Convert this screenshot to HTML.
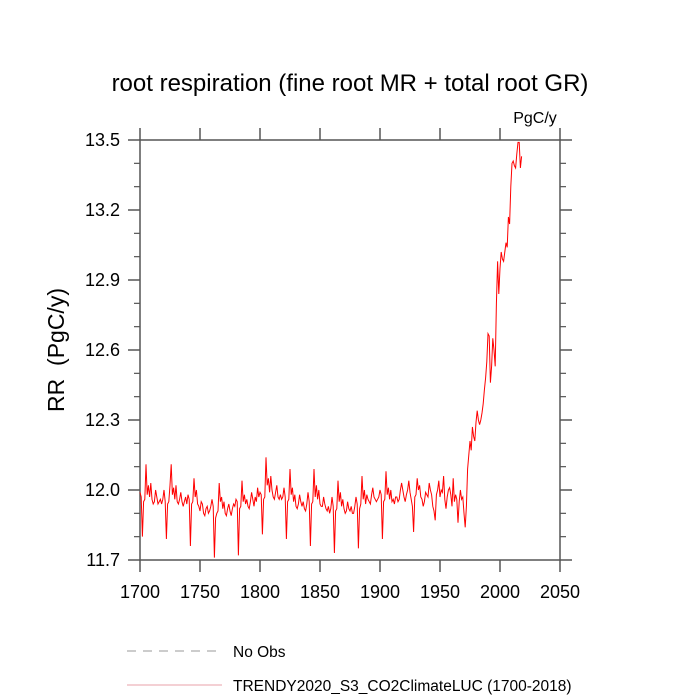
<!DOCTYPE html>
<html><head><meta charset="utf-8"><style>
body{margin:0;background:#fff;}
svg{display:block;font-family:"Liberation Sans",sans-serif;}
</style></head><body>
<svg id="chart" width="700" height="700">
<text x="350" y="91" text-anchor="middle" font-size="24">root respiration (fine root MR + total root GR)</text>
<text x="535" y="123" text-anchor="middle" font-size="16">PgC/y</text>
<text transform="translate(64,350) rotate(-90)" text-anchor="middle" font-size="23">RR&#160;&#160;(PgC/y)</text>
<g id="axes"></g>
<g id="series"></g>
<line x1="127" y1="651" x2="220" y2="651" stroke="#999" stroke-width="1" stroke-dasharray="9,7"/>
<text x="233" y="657" font-size="15.5">No Obs</text>
<line x1="127" y1="685" x2="222" y2="685" stroke="#e8a0a8" stroke-width="1"/>
<text x="233" y="691" font-size="15.5">TRENDY2020_S3_CO2ClimateLUC (1700-2018)</text>
</svg>
<script>
const startYear = 1700;
const xTicks = [1700,1750,1800,1850,1900,1950,2000,2050];
const yTicks = [11.7,12.0,12.3,12.6,12.9,13.2,13.5];
const yTickLabels = ["11.7","12.0","12.3","12.6","12.9","13.2","13.5"];
const rr = [11.99,11.97,
11.80,11.95,11.96,12.11,11.98,12.02,11.97,12.03,11.96,11.94,11.95,12.00,11.97,11.94,11.95,11.96,11.94,11.96,12.00,11.95,
11.79,11.94,11.95,12.02,12.11,11.98,12.01,11.96,12.02,11.95,11.94,11.96,11.99,11.95,11.93,11.95,11.97,11.94,11.98,11.96,
11.76,11.94,11.95,12.05,11.97,12.00,11.94,11.93,11.91,11.95,11.94,11.90,11.89,11.92,11.93,11.90,11.91,11.93,11.96,11.93,
11.71,11.88,11.90,11.91,12.03,11.95,11.97,11.92,11.95,11.90,11.89,11.92,11.94,11.91,11.89,11.92,11.94,11.93,11.96,11.95,
11.72,11.92,11.93,12.04,11.95,11.98,11.94,11.96,11.93,11.92,11.95,11.99,11.96,11.93,11.97,11.95,12.01,11.97,11.99,11.98,
11.81,11.96,11.97,12.14,12.02,12.05,11.99,12.06,12.00,11.97,11.96,11.99,12.02,11.97,11.96,11.98,11.96,11.97,12.01,11.97,
11.79,11.95,11.96,12.09,11.98,12.01,11.95,11.98,11.93,11.92,11.94,11.98,11.95,11.93,11.95,11.92,11.91,11.94,11.99,11.95,
11.76,11.94,11.95,12.09,11.97,12.02,11.96,12.00,11.94,11.93,11.93,11.97,11.94,11.92,11.91,11.93,11.90,11.92,11.97,11.93,
11.73,11.91,11.92,12.04,11.95,11.99,11.93,11.96,11.92,11.90,11.91,11.95,11.92,11.91,11.93,11.90,11.90,11.93,11.97,11.94,
11.75,11.92,11.94,12.06,11.96,12.00,11.94,11.98,11.96,11.95,11.94,11.98,12.01,11.97,11.96,11.95,11.96,11.97,12.00,11.98,
11.79,11.95,11.96,12.08,11.98,12.01,11.96,12.00,11.95,11.96,11.94,11.97,11.97,11.95,11.96,12.00,12.03,12.00,11.97,11.95,
11.98,12.00,12.04,11.99,11.96,11.93,11.82,11.97,11.98,12.05,12.00,12.02,11.97,11.96,11.93,11.95,11.99,11.98,11.97,12.03,
12.00,11.98,11.93,11.91,11.87,11.98,12.00,12.04,11.97,12.00,11.99,12.06,11.96,11.92,11.97,12.00,12.01,11.98,11.93,12.05,11.95,11.98,11.96,11.86,11.95,
12.00,11.96,11.97,11.90,11.84,11.93,12.09,12.15,12.21,12.17,12.27,12.23,12.21,12.29,12.34,12.30,12.28,12.30,12.33,12.37,
12.43,12.48,12.55,12.67,12.66,12.46,12.53,12.65,12.60,12.53,12.80,12.98,12.84,12.95,13.02,12.99,12.98,13.02,13.06,13.04,
13.17,13.14,13.30,13.40,13.41,13.39,13.38,13.44,13.49,13.49,13.38,13.43];

const L=140,R=560,T=140,B=560;
const xS = y => L + (y-1700)/(2050-1700)*(R-L);
const yS = v => B - (v-11.7)/(13.5-11.7)*(B-T);
const NS="http://www.w3.org/2000/svg";
const axes=document.getElementById('axes');
function mk(tag,attrs,parent){const e=document.createElementNS(NS,tag);for(const k in attrs)e.setAttribute(k,attrs[k]);parent.appendChild(e);return e;}
const frame=mk('rect',{x:L,y:T,width:R-L,height:B-T,fill:'none',stroke:'#555','stroke-width':1.5},axes);


xTicks.forEach(t=>{
  const x=xS(t);
  const tb=mk('line',{x1:x,y1:B,x2:x,y2:B+12,stroke:'#555','stroke-width':1.5},axes);
  
  
  const tt=mk('line',{x1:x,y1:T,x2:x,y2:T-12,stroke:'#555','stroke-width':1.5},axes);
  
  
  const lb=mk('text',{x:x,y:B+38,'text-anchor':'middle','font-size':18},axes);
  lb.textContent=t;
  
  
});
for(let i=0;i<yTicks.length;i++){
  const y=yS(yTicks[i]);
  const a=mk('line',{x1:L-12,y1:y,x2:L,y2:y,stroke:'#555','stroke-width':1.5},axes);
  
  
  const b=mk('line',{x1:R,y1:y,x2:R+12,y2:y,stroke:'#555','stroke-width':1.5},axes);
  
  
  const lb=mk('text',{x:L-20,y:y+6,'text-anchor':'end','font-size':18},axes);
  lb.textContent=yTickLabels[i];
  
  
  if(i<yTicks.length-1){
    for(let k=1;k<3;k++){
      const ym=yS(yTicks[i]+0.1*k);
      const m1=mk('line',{x1:L-6,y1:ym,x2:L,y2:ym,stroke:'#555','stroke-width':1.2},axes);
      
      
      const m2=mk('line',{x1:R,y1:ym,x2:R+6,y2:ym,stroke:'#555','stroke-width':1.2},axes);
      
      
    }
  }
}
const pts=rr.map((v,i)=>xS(startYear+i).toFixed(2)+','+yS(v).toFixed(2)).join(' ');
const line=mk('polyline',{points:pts,fill:'none',stroke:'#ff0000','stroke-width':1},document.getElementById('series'));


</script>
</body></html>
